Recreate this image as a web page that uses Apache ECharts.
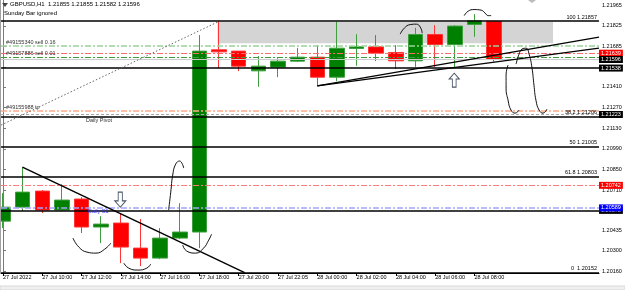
<!DOCTYPE html>
<html><head><meta charset="utf-8">
<script src="https://cdn.jsdelivr.net/npm/echarts@6/dist/echarts.min.js"></script>
<style>html,body{margin:0;padding:0;background:#fff}#c{width:625px;height:290px}</style>
</head><body><div id="c"></div>
<script>
// ---------- data ----------
const times = ['27 Jul 2022','27 Jul 09:00','27 Jul 10:00','27 Jul 11:00','27 Jul 12:00','27 Jul 13:00',
  '27 Jul 14:00','27 Jul 15:00','27 Jul 16:00','27 Jul 17:00','27 Jul 18:00','27 Jul 19:00','27 Jul 20:00',
  '27 Jul 21:00','27 Jul 22:05','27 Jul 23:00','28 Jul 00:00','28 Jul 01:00','28 Jul 02:00','28 Jul 03:00',
  '28 Jul 04:00','28 Jul 05:00','28 Jul 06:00','28 Jul 07:00','28 Jul 08:00','28 Jul 09:00'];
const timeTickIdx = [0,2,4,6,8,10,12,14,16,18,20,22,24];
const open  = [1.20499,1.20594,1.20703,1.20574,1.20649,1.20459,1.20486,1.20316,1.20248,1.20384,1.20425,1.21662,1.21653,1.21519,1.21544,1.21585,1.21612,1.21476,1.21671,1.21682,1.21644,1.21587,1.21766,1.21698,1.21834,1.21855];
const close = [1.20594,1.20696,1.20574,1.20642,1.20459,1.20479,1.20323,1.20248,1.20384,1.20425,1.21653,1.21648,1.21551,1.21551,1.21585,1.21612,1.21476,1.21673,1.21682,1.21639,1.21587,1.21766,1.21698,1.21823,1.21858,1.21596];
const low   = [1.20452,1.20567,1.20554,1.20567,1.20418,1.20350,1.20214,1.20194,1.20241,1.20377,1.20316,1.21538,1.21517,1.21411,1.21476,1.21580,1.21417,1.21449,1.21553,1.21585,1.21531,1.21546,1.21546,1.21536,1.21750,1.21582];
const high  = [1.20689,1.20866,1.20710,1.20750,1.20662,1.20533,1.20554,1.20513,1.20452,1.20621,1.21762,1.21857,1.21653,1.21619,1.21605,1.21675,1.21694,1.21852,1.21768,1.21762,1.21694,1.21811,1.21829,1.21829,1.21904,1.21855];
const priceTicks = [1.20160,1.20300,1.20435,1.20575,1.20710,1.20850,1.20990,1.21130,1.21270,1.21410,1.21545,1.21685,1.21825,1.21965];
const fibLevels = [1.21857,1.21206,1.21005,1.20803,1.20152];
const fibNames  = ['100','38.2','50','61.8','0 '];
const orderLevels = [1.21687,1.21612,1.21246];
const orderNames  = ['#49155340 sell 0.16','#49157886 sell 0.01','#49155988 tp'];
const redLevels = [1.21639,1.20742];
const bidLevel = 1.21596;
const supportLevel = 1.21538;
const pivotLevel = 1.21223;
const s1Level = 1.20572;
const s1BlueLevel = 1.20589;
// drawn objects (index, price)
const zone = [[10.92,1.21850],[28.0,1.21707]];
const dottedTrend = [[-0.1,1.21151],[10.92,1.21850]];
const downTrend = [[0.99,1.20866],[12.3,1.20150]];
const upTrendA = [[16,1.21417],[30.34,1.21748]];
const upTrendB = [[16,1.21417],[30.34,1.21673]];
const sketches = [
  [[20.22,1.21768],[20.43,1.21809],[20.73,1.21833],[21.04,1.21836],[21.24,1.21816],[21.34,1.21775]],
  [[23.48,1.21894],[23.68,1.21924],[23.98,1.21935],[24.34,1.21931],[24.54,1.21911],[24.70,1.21894],[24.85,1.21894]],
  [[25.71,1.21558],[25.61,1.21490],[25.61,1.21402],[25.71,1.21320],[25.86,1.21253],[26.07,1.21232],[26.27,1.21253]],
  [[26.12,1.21565],[26.27,1.21633],[26.42,1.21667],[26.63,1.21673],[26.78,1.21633],[26.93,1.21538],[27.03,1.21422],[27.13,1.21320],[27.29,1.21253],[27.49,1.21232],[27.69,1.21259]],
  [[3.56,1.20384],[3.86,1.20323],[4.27,1.20289],[4.73,1.20282],[5.18,1.20309],[5.49,1.20350]],
  [[6.15,1.20214],[6.40,1.20180],[6.86,1.20167],[7.32,1.20180],[7.52,1.20208]],
  [[8.43,1.20574],[8.54,1.20696],[8.64,1.20812],[8.79,1.20886],[8.99,1.20907],[9.20,1.20859]],
  [[9.15,1.20336],[9.35,1.20296],[9.81,1.20282],[10.21,1.20316],[10.47,1.20370],[10.62,1.20411]]
];
const upArrow = [[22.97,1.21456]];
const downArrow = [[5.97,1.20645]];

// ---------- chart ----------
const X_MIN = -0.1, X_MAX = 30.34;
const FONT = 'Liberation Sans';
const chart = echarts.init(document.getElementById('c'), null, {renderer:'canvas'});
const candles = times.map((t,i)=>[i, open[i], close[i], low[i], high[i]]);
const DASHDOT = [6,2,2,2];

function line(v, color, width, type, label){
  return [{coord:[X_MIN, v], lineStyle:{color, width, type, opacity:1}, label: label || {show:false}},
          {coord:[X_MAX, v]}];
}
function tag(text, bg){
  return {show:true, position:'end', distance:0, formatter:text, color:'#fff', backgroundColor:bg,
    padding:[1,2,0,2], fontSize:5.5, lineHeight:6, fontFamily:FONT};
}
function inLabel(text, pos, dist, color){
  return {show:true, position:pos, distance:dist, formatter:text, color:color||'#000', fontSize:5.5, fontFamily:FONT};
}
const f = v => v.toFixed(5);
const mk = [];
mk.push(line(fibLevels[0],'#000',1.5,'solid', inLabel(fibNames[0]+' '+f(fibLevels[0]),'insideEndTop',[2,1])));
mk.push(line(orderLevels[0],'#9ad29a',1.5,DASHDOT, inLabel(orderNames[0],'insideStartTop',[5,1],'#333')));
mk.push(line(redLevels[0],'#ff6b6b',1,DASHDOT, tag(f(redLevels[0]),'#ff0000')));
mk.push(line(orderLevels[1],'#3d9a3d',1,DASHDOT, inLabel(orderNames[1],'insideStartTop',[5,1],'#333')));
mk.push(line(bidLevel,'#cccccc',1,'solid', tag(f(bidLevel),'#000')));
mk.push(line(supportLevel,'#000',1.5,'solid', tag(f(supportLevel),'#000')));
mk.push(line(orderLevels[2],'#ffaa88',1.5,DASHDOT, inLabel(orderNames[2],'insideStartTop',[5,1],'#333')));
mk.push(line(pivotLevel,'#a8a8a8',1,[3,2], tag(f(pivotLevel),'#000')));
mk.push(line(fibLevels[1],'#000',1.5,'solid', inLabel(fibNames[1]+' '+f(fibLevels[1]),'insideEndTop',[2,1])));
mk.push(line(fibLevels[1],'rgba(0,0,0,0)',0.1,'solid', inLabel('Daily Pivot','insideStartBottom',[85,0.5],'#333')));
mk.push(line(fibLevels[2],'#000',1.5,'solid', inLabel(fibNames[2]+' '+f(fibLevels[2]),'insideEndTop',[2,1])));
mk.push(line(fibLevels[3],'#000',1.5,'solid', inLabel(fibNames[3]+' '+f(fibLevels[3]),'insideEndTop',[2,1])));
mk.push(line(redLevels[1],'#ff7b7b',1,DASHDOT, tag(f(redLevels[1]),'#ff0000')));
mk.push(line(s1Level,'#000',1.5,'solid', tag(f(s1Level),'#000')));
mk.push(line(s1BlueLevel,'#a3a3ff',1.5,DASHDOT, tag(f(s1BlueLevel),'#0000ff')));
mk.push(line(s1BlueLevel,'rgba(0,0,0,0)',0.1,'solid', inLabel('Daily S1','insideStartBottom',[87,0.5],'#3030ff')));
mk.push(line(fibLevels[4],'#000',1.5,'solid', inLabel(fibNames[4]+' '+f(fibLevels[4]),'insideEndTop',[2,1])));

const series = [
  {
    type:'candlestick', data:candles, barWidth:15, z:2,
    encode:{x:0, y:[1,2,3,4]},
    itemStyle:{color:'#008000', color0:'#ff0000', borderColor:'#3f9f3f', borderColor0:'#ff3434', borderWidth:1},
    emphasis:{disabled:true},
    markArea:{silent:true, itemStyle:{color:'#d4d4d4'}, data:[[{coord:zone[0]},{coord:zone[1]}]]}
  },
  {
    type:'line', data:[[X_MIN,1.21],[X_MAX,1.21]], symbol:'none', lineStyle:{opacity:0}, clip:false, z:5,
    markLine:{silent:true, symbol:['none','none'], animation:false, label:{show:false}, data:mk}
  },
  {type:'line', data:dottedTrend, symbol:'none', z:6, lineStyle:{color:'#666', width:1, type:[1.5,2]}},
  {type:'line', data:downTrend, symbol:'none', z:6, lineStyle:{color:'#000', width:1.4}},
  {type:'line', data:upTrendA, symbol:'none', z:6, lineStyle:{color:'#000', width:1.4}},
  {type:'line', data:upTrendB, symbol:'none', z:6, lineStyle:{color:'#000', width:1.4}},
  ...sketches.map(s=>({type:'line', data:s, symbol:'none', smooth:0.5, z:6, lineStyle:{color:'#111', width:1}})),
  {type:'scatter', data:upArrow, z:7, symbol:'path://M4,0 L8,5 L5.5,5 L5.5,12 L2.5,12 L2.5,5 L0,5 Z', symbolSize:[10,14],
    itemStyle:{color:'#fff', borderColor:'#1a2a40', borderWidth:1}},
  {type:'scatter', data:downArrow, z:7, symbol:'path://M4,0 L8,5 L5.5,5 L5.5,12 L2.5,12 L2.5,5 L0,5 Z', symbolRotate:180, symbolSize:[11,15],
    itemStyle:{color:'#fff', borderColor:'#1a2a40', borderWidth:1}}
];

const last = times.length-1;
chart.setOption({
  animation:false,
  backgroundColor:'#fff',
  grid:{left:0, right:26, top:0, bottom:17, containLabel:false},
  xAxis:{
    type:'value', min:X_MIN, max:X_MAX,
    axisLine:{show:true, onZero:false, lineStyle:{color:'#000', width:1}},
    axisTick:{show:true, customValues:timeTickIdx, length:3, lineStyle:{color:'#000'}},
    axisLabel:{customValues:timeTickIdx, formatter:v=>times[Math.round(v)], align:'left', fontSize:5.5,
      margin:1.5, color:'#000', fontFamily:FONT, hideOverlap:false},
    splitLine:{show:false}
  },
  yAxis:{
    type:'value', position:'right', min:1.20147, max:1.22000, scale:true,
    axisLine:{show:true, lineStyle:{color:'#7a7a7a', width:1}},
    axisTick:{show:true, customValues:priceTicks, length:3, lineStyle:{color:'#7a7a7a'}},
    axisLabel:{customValues:priceTicks, formatter:v=>v.toFixed(5), fontSize:5.5, margin:3, color:'#000', fontFamily:FONT, hideOverlap:false},
    splitLine:{show:false}
  },
  graphic:[
    {type:'line', shape:{x1:0.5,y1:0,x2:0.5,y2:273}, style:{stroke:'#a0a0a0', lineWidth:1}, z:10},
    {type:'polygon', shape:{points:[[2,3],[8,3],[5,7]]}, style:{fill:'#444'}, z:10},
    {type:'polygon', shape:{points:[[528,0],[536,0],[532,3]]}, style:{fill:'#bbb'}, z:10},
    {type:'text', x:10, y:1.5, z:10, style:{text:'GBPUSD,H1  '+f(open[last])+' '+f(high[last])+' '+f(low[last])+' '+f(close[last]),
      fontSize:6, fontFamily:FONT, fill:'#000'}},
    {type:'text', x:4, y:10, z:10, style:{text:'Sunday Bar ignored', fontSize:6, fontFamily:FONT, fill:'#000'}},
    {type:'rect', shape:{x:0,y:286,width:625,height:4}, style:{fill:'#f0f0f0', stroke:'#d8d8d8', lineWidth:1}, z:10}
  ],
  series
});
</script></body></html>
